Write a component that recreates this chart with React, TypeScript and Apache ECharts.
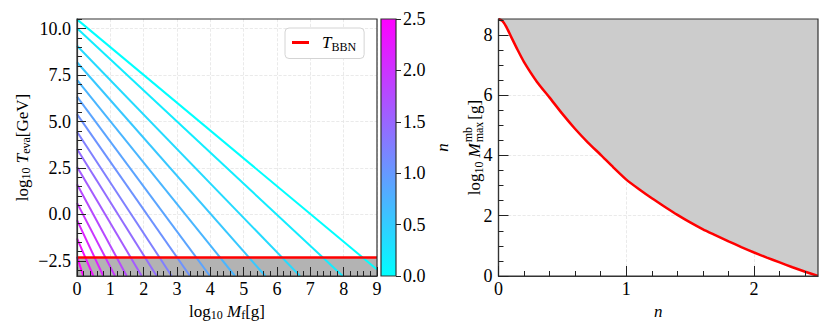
import React, { useEffect, useRef } from 'react';
import * as echarts from 'echarts';

// ---- Left panel: evaporation temperature lines, one per n ----
const lineN = [0, 0.179, 0.357, 0.536, 0.714, 0.893, 1.071, 1.25, 1.429, 1.607, 1.786, 1.964, 2.143, 2.321, 2.5];
const lineStartY = [10.5, 10.02, 9.08, 8.19, 7.24, 6.34, 5.4, 4.45, 3.52, 2.56, 1.62, 0.62, -0.31, -1.29, -2.28];
const lineEndX = [9.0, 7.97, 6.69, 5.65, 4.74, 3.99, 3.39, 2.84, 2.39, 1.94, 1.49, 1.14, 0.79, 0.49, 0.19];
const lineEndY = [-2.97, -3.32, -3.32, -3.32, -3.32, -3.32, -3.32, -3.32, -3.32, -3.32, -3.32, -3.32, -3.32, -3.32, -3.32];
const logTBBN = -2.32;
const leftXTicks = [0, 1, 2, 3, 4, 5, 6, 7, 8, 9];
const leftYTicks = [-2.5, 0, 2.5, 5, 7.5, 10];
const leftYMinor = [-3, -2, -1.5, -1, -0.5, 0.5, 1, 1.5, 2, 3, 3.5, 4, 4.5, 5.5, 6, 6.5, 7, 8, 8.5, 9, 9.5, 10.5];
const leftYRange = [-3.32, 10.52];

// ---- Colour bar ----
const cbarTicks = [0, 0.5, 1, 1.5, 2, 2.5];

// ---- Right panel: maximal mass vs n ----
const nGrid = [0, 0.03, 0.06, 0.1, 0.15, 0.2, 0.3, 0.4, 0.5, 0.6, 0.7, 0.8, 0.9, 1.0, 1.1, 1.2, 1.3, 1.4, 1.5, 1.6, 1.7, 1.8, 1.9, 2.0, 2.1, 2.2, 2.3, 2.4, 2.5];
const mMax = [8.53, 8.47, 8.28, 7.93, 7.5, 7.1, 6.45, 5.92, 5.38, 4.88, 4.43, 4.02, 3.6, 3.2, 2.88, 2.58, 2.3, 2.03, 1.78, 1.55, 1.35, 1.15, 0.96, 0.78, 0.61, 0.45, 0.29, 0.14, 0.0];
const rightXTicks = [0, 1, 2];
const rightXMinor = [0.2, 0.4, 0.6, 0.8, 1.2, 1.4, 1.6, 1.8, 2.2, 2.4];
const rightYTicks = [0, 2, 4, 6, 8];
const rightYMinor = [0.5, 1, 1.5, 2.5, 3, 3.5, 4.5, 5, 5.5, 6.5, 7, 7.5, 8.5];
const rightYRange = [0, 8.53];

const FONT = '"Liberation Serif", serif';
const FONT_CSS = '"Liberation Serif"';
const FS = 17;
const TFS = 18;
const SUB = 12;
const AX = '#333';

function coolColor(n: number) {
  const t = n / 2.5;
  return `rgb(${Math.round(255 * t)},${Math.round(255 * (1 - t))},255)`;
}

const richBase = {
  a: { fontFamily: FONT, fontSize: FS, color: '#000', lineHeight: 20, verticalAlign: 'middle' },
  c: { fontFamily: FONT, fontSize: FS, fontStyle: 'italic', color: '#000', lineHeight: 20, verticalAlign: 'middle' },
  b: { fontFamily: FONT, fontSize: SUB, color: '#000', lineHeight: 11, verticalAlign: 'bottom' },
};

function measure(text: string, font: string) {
  const ctx = document.createElement('canvas').getContext('2d') as CanvasRenderingContext2D;
  ctx.font = font;
  return ctx.measureText(text).width;
}

const tickRich = { t: { fontFamily: FONT, fontSize: TFS, color: '#000', lineHeight: 18 } };
const tickLabel = { fontFamily: FONT, fontSize: TFS, color: '#000', rich: tickRich };
const wrap = (s: string) => `{t|${s}}`;

export default function App() {
  const ref = useRef<HTMLDivElement>(null);
  useEffect(() => {
    if (!ref.current) return;
    const chart = echarts.init(ref.current, undefined, { renderer: 'svg' });

    // Right y-axis label with stacked super/subscript
    const fMain = `${FS}px ${FONT_CSS}`;
    const fIt = `italic ${FS}px ${FONT_CSS}`;
    const fSub = `${SUB}px ${FONT_CSS}`;
    const w1 = measure('log', fMain);
    const w2 = measure('10', fSub);
    const wM = measure('M', fIt);
    const wmb = measure('mb', fSub);
    const wmax = measure('max', fSub);
    const wg = measure('[g]', fMain);
    const total = w1 + w2 + 4 + wM + 1 + Math.max(wmb, wmax) + 2 + wg;
    let cx = -total / 2;
    const parts: any[] = [];
    parts.push({ type: 'text', x: cx, y: 0, style: { text: 'log', font: fMain, fill: '#000', verticalAlign: 'middle', align: 'left' } });
    cx += w1;
    parts.push({ type: 'text', x: cx, y: 5, style: { text: '10', font: fSub, fill: '#000', verticalAlign: 'middle', align: 'left' } });
    cx += w2 + 4;
    parts.push({ type: 'text', x: cx, y: 0, style: { text: 'M', font: fIt, fill: '#000', verticalAlign: 'middle', align: 'left' } });
    cx += wM + 1;
    parts.push({ type: 'text', x: cx, y: -6, style: { text: 'mb', font: fSub, fill: '#000', verticalAlign: 'middle', align: 'left' } });
    parts.push({ type: 'text', x: cx, y: 5, style: { text: 'max', font: fSub, fill: '#000', verticalAlign: 'middle', align: 'left' } });
    cx += Math.max(wmb, wmax) + 2;
    parts.push({ type: 'text', x: cx, y: 0, style: { text: '[g]', font: fMain, fill: '#000', verticalAlign: 'middle', align: 'left' } });

    const splitStyle = { show: true, lineStyle: { color: '#e4e4e4', type: 'dashed', width: 0.8 } };
    const hidden = { axisLine: { show: false }, axisTick: { show: false }, axisLabel: { show: false } };

    const lineSeries = lineN.map((n, i) => ({
      type: 'line',
      xAxisIndex: 0,
      yAxisIndex: 0,
      data: [[0, lineStartY[i]], [lineEndX[i], lineEndY[i]]],
      symbol: 'none',
      clip: true,
      silent: true,
      z: 3,
      lineStyle: { color: coolColor(n), width: 2 },
    }));

    const option: any = {
      animation: false,
      textStyle: { fontFamily: FONT, fontSize: FS, color: '#000' },
      grid: [
        { left: 77, top: 19, width: 300, height: 257, show: true, z: 10, borderColor: AX, borderWidth: 1.2, backgroundColor: 'transparent' },
        { left: 381, top: 19, width: 15, height: 257, show: true, z: 10, borderColor: AX, borderWidth: 1.2, backgroundColor: 'transparent' },
        { left: 498.5, top: 19, width: 319.5, height: 257, show: true, z: 10, borderColor: AX, borderWidth: 1.2, backgroundColor: 'transparent' },
      ],
      xAxis: [
        { gridIndex: 0, type: 'value', min: 0, max: 9, interval: 1, ...hidden, splitLine: splitStyle, z: 0 },
        {
          gridIndex: 0, type: 'value', min: 0, max: 9, interval: 1, position: 'bottom', z: 10,
          axisLine: { show: true, onZero: false, lineStyle: { color: AX, width: 1.2 } },
          axisTick: { show: true, inside: true, length: 9, lineStyle: { color: '#222' } },
          minorTick: { show: true, splitNumber: 5, length: 5, lineStyle: { color: '#222' } },
          axisLabel: { ...tickLabel, margin: 4, customValues: leftXTicks, formatter: (v: number) => wrap(String(v)) },
          splitLine: { show: false },
          name: '{a|log}{b|10}{c| M}{b|f}{a|[g]}', nameLocation: 'middle', nameGap: 24,
          nameTextStyle: { rich: richBase },
        },
        { gridIndex: 1, type: 'category', data: ['c'], show: false, boundaryGap: true },
        { gridIndex: 2, type: 'value', min: 0, max: 2.5, ...hidden, axisTick: { show: false, customValues: rightXTicks }, splitLine: splitStyle, z: 0 },
        {
          gridIndex: 2, type: 'value', min: 0, max: 2.5, position: 'bottom', z: 10,
          axisLine: { show: true, onZero: false, lineStyle: { color: AX, width: 1.2 } },
          axisTick: { show: true, inside: true, length: 10, customValues: rightXTicks, lineStyle: { color: '#222' } },
          axisLabel: { ...tickLabel, margin: 4, customValues: rightXTicks, formatter: (v: number) => wrap(String(v)) },
          splitLine: { show: false },
          name: 'n', nameLocation: 'middle', nameGap: 24,
          nameTextStyle: { fontFamily: FONT, fontSize: FS, fontStyle: 'italic', color: '#000' },
        },
        {
          gridIndex: 2, type: 'value', min: 0, max: 2.5, position: 'bottom', z: 10,
          axisLine: { show: false, onZero: false }, axisLabel: { show: false },
          axisTick: { show: true, inside: true, length: 5, customValues: rightXMinor, lineStyle: { color: '#222' } },
          splitLine: { show: false },
        },
      ],
      yAxis: [
        { gridIndex: 0, type: 'value', min: leftYRange[0], max: leftYRange[1], position: 'left', ...hidden, axisTick: { show: false, customValues: leftYTicks }, splitLine: splitStyle, z: 0 },
        {
          gridIndex: 0, type: 'value', min: leftYRange[0], max: leftYRange[1], position: 'left', z: 10,
          axisLine: { show: true, onZero: false, lineStyle: { color: AX, width: 1.2 } },
          axisTick: { show: true, inside: true, length: 9, customValues: leftYTicks, lineStyle: { color: '#222' } },
          axisLabel: { ...tickLabel, margin: 6, customValues: leftYTicks, formatter: (v: number) => wrap(v < 0 ? '\u2212' + Math.abs(v).toFixed(1) : v.toFixed(1)) },
          splitLine: { show: false },
          name: '{a|log}{b|10}{c| T}{b|eva}{a|[GeV]}', nameLocation: 'middle', nameGap: 45, nameRotate: 90,
          nameTextStyle: { rich: richBase },
        },
        {
          gridIndex: 0, type: 'value', min: leftYRange[0], max: leftYRange[1], position: 'left', z: 10,
          axisLine: { show: false, onZero: false }, axisLabel: { show: false },
          axisTick: { show: true, inside: true, length: 5, customValues: leftYMinor, lineStyle: { color: '#222' } },
          splitLine: { show: false },
        },
        {
          gridIndex: 1, type: 'value', min: 0, max: 2.5, position: 'right', z: 10,
          axisLine: { show: false, onZero: false },
          axisTick: { show: true, inside: false, length: 5, customValues: cbarTicks, lineStyle: { color: '#222' } },
          axisLabel: { ...tickLabel, margin: 7, customValues: cbarTicks, formatter: (v: number) => wrap(v.toFixed(1)) },
          splitLine: { show: false },
          name: 'n', nameLocation: 'middle', nameGap: 38, nameRotate: 90,
          nameTextStyle: { fontFamily: FONT, fontSize: FS, fontStyle: 'italic', color: '#000' },
        },
        { gridIndex: 2, type: 'value', min: rightYRange[0], max: rightYRange[1], position: 'left', ...hidden, axisTick: { show: false, customValues: rightYTicks }, splitLine: splitStyle, z: 0 },
        {
          gridIndex: 2, type: 'value', min: rightYRange[0], max: rightYRange[1], position: 'left', z: 10,
          axisLine: { show: true, onZero: false, lineStyle: { color: AX, width: 1.2 } },
          axisTick: { show: true, inside: true, length: 10, customValues: rightYTicks, lineStyle: { color: '#222' } },
          axisLabel: { ...tickLabel, margin: 6, customValues: rightYTicks, formatter: (v: number) => wrap(String(v)) },
          splitLine: { show: false },
        },
        {
          gridIndex: 2, type: 'value', min: rightYRange[0], max: rightYRange[1], position: 'left', z: 10,
          axisLine: { show: false, onZero: false }, axisLabel: { show: false },
          axisTick: { show: true, inside: true, length: 5, customValues: rightYMinor, lineStyle: { color: '#222' } },
          splitLine: { show: false },
        },
      ],
      legend: {
        show: true,
        data: ['T_BBN'],
        left: 285,
        top: 28,
        padding: [6, 8, 6, 7],
        backgroundColor: '#fff',
        borderColor: '#d4d4d4',
        borderWidth: 1,
        borderRadius: 4,
        itemWidth: 17,
        itemHeight: 3,
        icon: 'rect',
        formatter: () => '{i|T}{s|BBN}',
        textStyle: {
          rich: {
            i: { fontFamily: FONT, fontSize: FS, fontStyle: 'italic', color: '#000', lineHeight: 20, verticalAlign: 'middle', padding: [0, 0, 0, 8] },
            s: { fontFamily: FONT, fontSize: SUB, color: '#000', lineHeight: 11, verticalAlign: 'bottom' },
          },
        },
      },
      graphic: [
        { type: 'group', x: 474, y: 147.5, rotation: Math.PI / 2, children: parts },
      ],
      series: [
        {
          type: 'line', xAxisIndex: 0, yAxisIndex: 0, z: 1, silent: true,
          data: [[0, logTBBN], [9, logTBBN]], symbol: 'none',
          lineStyle: { width: 0, opacity: 0 },
          areaStyle: { origin: 'start', color: '#b3b3b3', opacity: 1 },
        },
        ...lineSeries,
        {
          name: 'T_BBN', type: 'line', xAxisIndex: 0, yAxisIndex: 0, z: 5, silent: true,
          data: [[0, logTBBN], [9, logTBBN]], symbol: 'none', color: '#ff0000',
          lineStyle: { color: '#ff0000', width: 2.5 },
          itemStyle: { color: '#ff0000' },
        },
        {
          type: 'bar', xAxisIndex: 2, yAxisIndex: 3, data: [2.5], barWidth: '100%', silent: true,
          itemStyle: {
            color: new echarts.graphic.LinearGradient(0, 1, 0, 0, [
              { offset: 0, color: coolColor(0) },
              { offset: 1, color: coolColor(2.5) },
            ]),
          },
        },
        {
          type: 'line', xAxisIndex: 3, yAxisIndex: 4, z: 3, silent: true,
          data: nGrid.map((n, i) => [n, mMax[i]]), symbol: 'none', smooth: 0.2,
          lineStyle: { color: '#ff0000', width: 2.5 },
          areaStyle: { origin: 'end', color: '#cccccc', opacity: 1 },
        },
      ],
    };
    chart.setOption(option);
    return () => chart.dispose();
  }, []);
  return <div ref={ref} style={{ position: 'absolute', left: 0, top: 0, width: 830, height: 332 }} />;
}
